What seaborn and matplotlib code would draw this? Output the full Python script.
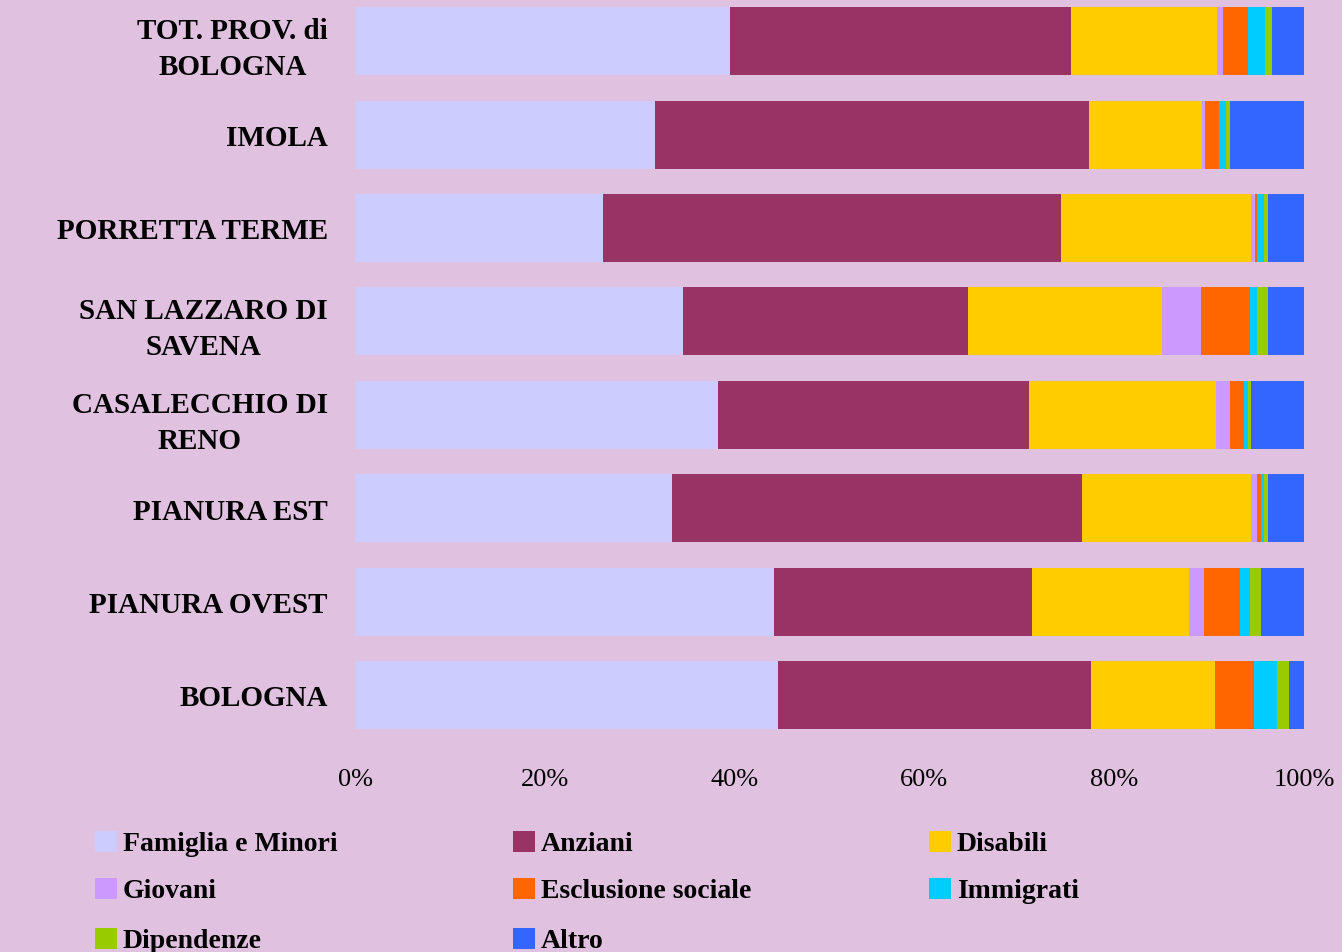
import numpy as np
import pandas as pd
import matplotlib
matplotlib.use("Agg")
import matplotlib.pyplot as plt
from matplotlib.patches import Rectangle
import seaborn as sns

# ---- data (percent of total, per area) ----
areas = ["TOT. PROV. di\nBOLOGNA", "IMOLA", "PORRETTA TERME", "SAN LAZZARO DI\nSAVENA",
         "CASALECCHIO DI\nRENO", "PIANURA EST", "PIANURA OVEST", "BOLOGNA"]
series_names = ["Famiglia e Minori", "Anziani", "Disabili", "Giovani",
                "Esclusione sociale", "Immigrati", "Dipendenze", "Altro"]
famiglia   = [39.5, 31.6, 26.1, 34.6, 38.3, 33.4, 44.2, 44.6]
anziani    = [36.0, 45.7, 48.3, 30.0, 32.7, 43.1, 27.2, 33.0]
disabili   = [15.3, 11.9, 20.0, 20.4, 19.7, 17.8, 16.6, 13.1]
giovani    = [0.7, 0.3, 0.4, 4.1, 1.5, 0.7, 1.5, 0.0]
esclusione = [2.6, 1.5, 0.3, 5.2, 1.5, 0.4, 3.8, 4.1]
immigrati  = [1.8, 0.7, 0.7, 0.7, 0.4, 0.3, 1.1, 2.5]
dipendenze = [0.7, 0.4, 0.4, 1.2, 0.3, 0.4, 1.2, 1.2]
altro      = [3.4, 7.8, 3.8, 3.8, 5.6, 3.8, 4.5, 1.6]
tick_values = [0, 20, 40, 60, 80, 100]
tick_labels = ["0%", "20%", "40%", "60%", "80%", "100%"]

colors = ["#CCCCFF", "#993366", "#FFCC00", "#CC99FF",
          "#FF6600", "#00CCFF", "#99CC00", "#3366FF"]
bg = "#E0C2E0"

sns.set_theme(style="white")
plt.rcParams["font.family"] = ["Liberation Serif", "DejaVu Serif"]

W, H = 1342, 953
fig = plt.figure(figsize=(W / 100, H / 100), dpi=100, facecolor=bg)
ax_left, ax_right, ax_top, ax_bot = 355, 1304, 1, 738
ax = fig.add_axes([ax_left / W, 1 - ax_bot / H, (ax_right - ax_left) / W, (ax_bot - ax_top) / H])
ax.set_facecolor(bg)

vals = np.array([famiglia, anziani, disabili, giovani, esclusione, immigrati, dipendenze, altro], dtype=float)
vals = vals / vals.sum(axis=0) * 100.0
cum = np.cumsum(vals, axis=0)
df = pd.DataFrame({"area": areas})
for i, name in enumerate(series_names):
    df[name] = cum[i]

for i in range(len(series_names) - 1, -1, -1):
    sns.barplot(data=df, x=series_names[i], y="area", order=areas, orient="h",
                color=colors[i], saturation=1, width=0.728, errorbar=None,
                linewidth=0, ax=ax)

ax.set_xlim(0, 100)
ax.set_ylim(7.45, -0.44)
ax.set_xlabel("")
ax.set_ylabel("")
ax.set_xticks(tick_values)
ax.set_xticklabels(tick_labels, fontsize=19, color="black")
ax.set_yticks(range(len(areas)))
ax.set_yticklabels(areas, fontsize=21, fontweight="bold", multialignment="center",
                   linespacing=1.43, color="black")
ax.tick_params(axis="y", length=0, pad=19.5)
ax.tick_params(axis="x", length=0, pad=22.5)
for s in ax.spines.values():
    s.set_visible(False)
ax.grid(False)

# ---- legend (3 columns, row-major) ----
col_x = [95, 513, 929]
row_y = [832, 879, 929]
for i, name in enumerate(series_names):
    r, c = divmod(i, 3)
    x0, y0 = col_x[c], row_y[r]
    fig.add_artist(Rectangle((x0 / W, 1 - (y0 + 21) / H), 22 / W, 21 / H,
                             transform=fig.transFigure, facecolor=colors[i],
                             edgecolor="none"))
    fig.text((x0 + 28) / W, 1 - (y0 + 19) / H, name, fontsize=20, fontweight="bold",
             ha="left", va="baseline", color="black")

fig.savefig("out.png", dpi=100, facecolor=bg)
